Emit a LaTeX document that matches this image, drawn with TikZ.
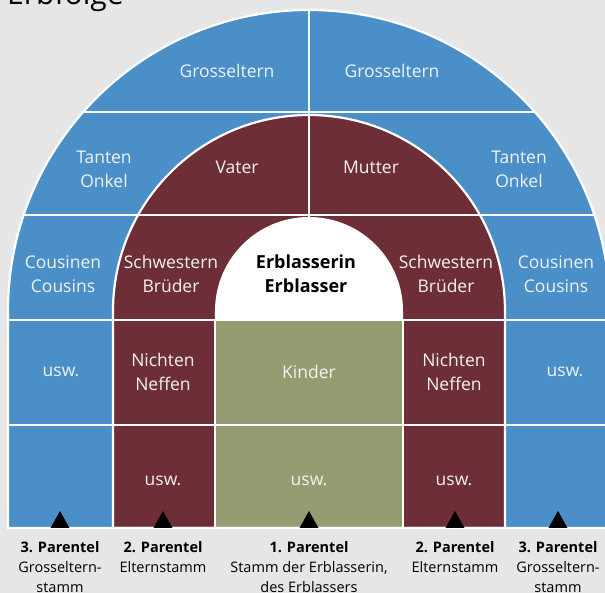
\documentclass[tikz,border=0pt]{standalone}
\usepackage{fontspec}
\setmainfont{Open Sans}
\usetikzlibrary{positioning}
\definecolor{erbblue}{RGB}{74,143,199}
\definecolor{erbred}{RGB}{110,46,55}
\definecolor{erbgreen}{RGB}{150,156,114}
\definecolor{erbgray}{RGB}{230,230,230}
% arch: half disc of radius #1 on a block down to #2
\newcommand{\erbarch}[2]{(-#1,#2) -- (-#1,0) arc[start angle=180,end angle=0,radius=#1] -- (#1,#2) -- cycle}
\tikzset{
    divider/.style = {draw=white, line width=2.2pt},
    zone/.style = {align=center, inner sep=0pt, text=white!95!black, font=\fontsize{17.5}{24}\selectfont},
    zoneb/.style = {align=center, inner sep=0pt, text=black, font=\fontsize{18}{24}\selectfont\bfseries},
    parentel/.style = {align=center, anchor=north, inner sep=0pt, font=\fontsize{14.5}{20}\selectfont},
    marker/.style = {fill=black},
    heading/.style = {anchor=base west, inner sep=0pt, font=\fontsize{30}{36}\selectfont}
}

\begin{document}
\begin{tikzpicture}[x=1pt, y=1pt]

  \fill[erbgray] (-309,-282) rectangle (296,311);
  \useasboundingbox (-309,-282) rectangle (296,311);
  \node[heading] (title) at (-302,306) {Erbfolge};

  % rings, outer to inner
  \fill[erbblue] \erbarch{301}{-217};
  \fill[erbred] \erbarch{196}{-217};
  \fill[erbgreen] (-94,-217) rectangle (94,-9);
  \fill[white] \erbarch{94}{-9};

  % cell borders
  \begin{scope}
    \clip \erbarch{301}{-217};
    \foreach \y in {199,96,-9,-114}
      \draw[divider] (-301,\y) -- (301,\y);
    \draw[divider] (0,301) -- (0,94);
    \draw[divider] (-94,-9) -- (-94,-217);
    \draw[divider] (94,-9) -- (94,-217);
  \end{scope}
  \draw[divider] \erbarch{196}{-217};
  \draw[divider] \erbarch{301}{-217};

  % 3. Parentel
  \node[zone] (gpl) at (-82,240) {Grosseltern};
  \node[zone] (gpr) at (83,240) {Grosseltern};
  \node[zone] (uncl) at (-205,142) {Tanten\\Onkel};
  \node[zone] (uncr) at (210,142) {Tanten\\Onkel};
  \node[zone] (cousl) at (-246,37) {Cousinen\\Cousins};
  \node[zone] (cousr) at (247,37) {Cousinen\\Cousins};
  \node[zone] (etcl) at (-248,-61) {usw.};
  \node[zone] (etcr) at (256,-61) {usw.};

  % 2. Parentel
  \node[zone] (father) at (-72,144) {Vater};
  \node[zone] (mother) at (62,144) {Mutter};
  \node[zone] (sibl) at (-138,37) {Schwestern\\Brüder};
  \node[zone] (sibr) at (137,37) {Schwestern\\Brüder};
  \node[zone] (nephl) at (-146,-61) {Nichten\\Neffen};
  \node[zone] (nephr) at (145,-61) {Nichten\\Neffen};
  \node[zone] (etcnl) at (-146,-170) {usw.};
  \node[zone] (etcnr) at (145,-170) {usw.};

  % 1. Parentel
  \node[zoneb] (deceased) at (-3,37) {Erblasserin\\Erblasser};
  \node[zone] (children) at (0,-61) {Kinder};
  \node[zone] (etcc) at (0,-170) {usw.};

  % stems
  \foreach \x/\n in {-249/m1,-146/m2,0/m3,146/m4,249/m5} {
    \coordinate (\n) at (\x,-217);
    \fill[marker] (\n) +(-9.5,0) -- +(9.5,0) -- +(0,17) -- cycle;
  }
  \node[parentel, below=13pt of m1] (p3l) {\textbf{3. Parentel}\\Grosseltern-\\stamm};
  \node[parentel, below=13pt of m2] (p2l) {\textbf{2. Parentel}\\Elternstamm};
  \node[parentel, below=13pt of m3] (p1) {\textbf{1. Parentel}\\Stamm der Erblasserin,\\des Erblassers};
  \node[parentel, below=13pt of m4] (p2r) {\textbf{2. Parentel}\\Elternstamm};
  \node[parentel, below=13pt of m5] (p3r) {\textbf{3. Parentel}\\Grosseltern-\\stamm};

\end{tikzpicture}
\end{document}
